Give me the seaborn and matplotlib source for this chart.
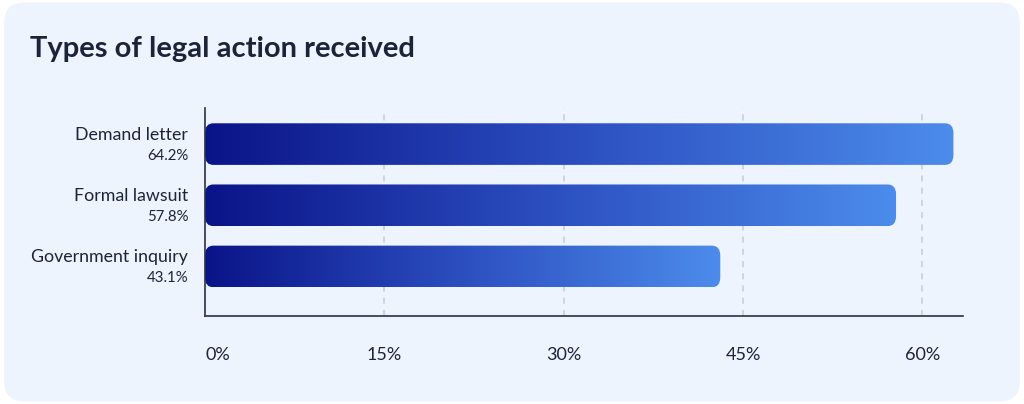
import numpy as np
import pandas as pd
import seaborn as sns
import matplotlib.pyplot as plt
from matplotlib.patches import FancyBboxPatch
from matplotlib.colors import LinearSegmentedColormap

categories = ["Demand letter", "Formal lawsuit", "Government inquiry"]
values = [64.2, 57.8, 43.1]
tick_values = [0, 15, 30, 45, 60]
tick_labels = ["0%", "15%", "30%", "45%", "60%"]
title = "Types of legal action received"

BG = "#eef4fe"
TEXT = "#1b2438"
bar_cmap = LinearSegmentedColormap.from_list("bars", ["#0a1488", "#2c4fc0", "#4c8ceb"])
XMAX = 63.4

sns.set_theme(style="white")
plt.rcParams["font.family"] = ["Lato", "DejaVu Sans"]

df = pd.DataFrame({"category": categories, "value": values})

fig = plt.figure(figsize=(10.24, 4.04), dpi=100)
fig.patch.set_facecolor("white")

# rounded card behind everything
card = FancyBboxPatch((0.004, 0.006), 0.992, 0.988,
                      boxstyle="round,pad=0,rounding_size=0.02",
                      transform=fig.transFigure, facecolor=BG, edgecolor="none",
                      mutation_aspect=1024 / 404, zorder=-10)
fig.patches.append(card)

ax = fig.add_axes([0.2002, 0.2178, 0.7402, 0.5149])
ax.set_facecolor("none")
ax.set_zorder(5)

sns.barplot(data=df, x="value", y="category", orient="h", width=0.68,
            color="#2c4fc0", ax=ax, zorder=2)

ax.set_xlim(0, XMAX)
ax.set_ylim(2.81, -0.59)

# swap flat bars for rounded gradient bars (kept inside the axis range)
gradient = np.linspace(0, 1, 256).reshape(1, -1)
for p in list(ax.patches):
    x0, y0 = p.get_x(), p.get_y()
    w, h = p.get_width(), p.get_height()
    w = min(w, XMAX - 0.8 - x0)
    p.set_visible(False)
    rb = FancyBboxPatch((x0, y0), w, h,
                        boxstyle="round,pad=0,rounding_size=0.7",
                        mutation_aspect=h / 3.0,
                        facecolor="none", edgecolor="none", transform=ax.transData)
    ax.add_patch(rb)
    im = ax.imshow(gradient, cmap=bar_cmap, aspect="auto",
                   extent=(x0, x0 + w, y0 + h, y0), zorder=2, interpolation="bicubic")
    im.set_clip_path(rb)

ax.set_xlim(0, XMAX)
ax.set_ylim(2.81, -0.59)

# dashed gridlines
for t in tick_values[1:]:
    ax.axvline(t, color="#c8ccd4", linestyle=(0, (4, 4)), linewidth=1.1, zorder=1)

for side in ["top", "right"]:
    ax.spines[side].set_visible(False)
for side in ["left", "bottom"]:
    ax.spines[side].set_color("#2a3142")
    ax.spines[side].set_linewidth(1.2)

ax.set_xticks(tick_values)
ax.set_xticklabels(tick_labels, fontsize=13, color=TEXT)
ax.get_xticklabels()[0].set_horizontalalignment("left")
ax.tick_params(axis="x", length=0, pad=22)

ax.set_yticks([])
ax.set_xlabel("")
ax.set_ylabel("")

# category names and percentages to the left of the axis
for i, (cat, val) in enumerate(zip(categories, values)):
    ax.annotate(cat, xy=(0, i), xycoords="data", xytext=(-12, 6.5),
                textcoords="offset points", ha="right", va="center",
                fontsize=12.8, color=TEXT)
    ax.annotate(f"{val}%", xy=(0, i), xycoords="data", xytext=(-12, -8.5),
                textcoords="offset points", ha="right", va="center",
                fontsize=10.8, color=TEXT)

fig.text(30 / 1024, 1 - 49 / 404, title, fontsize=21, fontweight="bold",
         color=TEXT, ha="left", va="center")

fig.savefig("out.png", dpi=100, facecolor=fig.get_facecolor())
